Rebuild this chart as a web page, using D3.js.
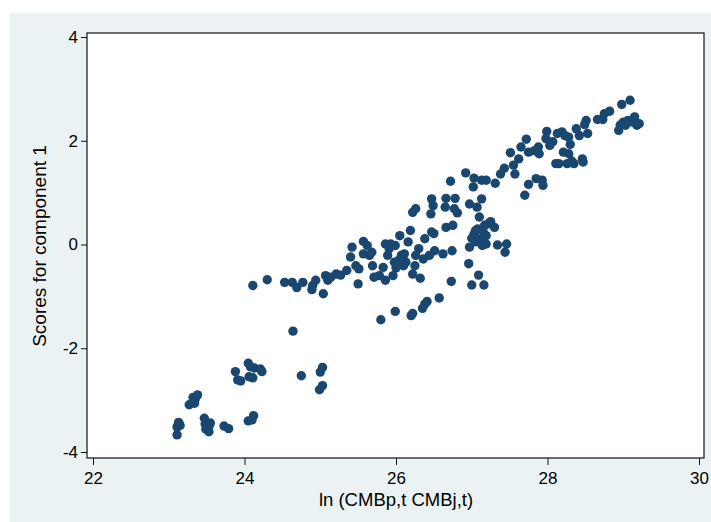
<!DOCTYPE html>
<html>
<head>
<meta charset="utf-8">
<script src="https://cdn.jsdelivr.net/npm/d3@7"></script>
<style>
  body { margin: 0; background: #ffffff; }
  svg { display: block; font-family: "Liberation Sans", Arial, sans-serif; }
</style>
</head>
<body>
<svg id="chart"></svg>
<script>
const xTicks = [22, 24, 26, 28, 30]
const yTicks = [-4, -2, 0, 2, 4]
const xTitle = 'ln (CMBp,t CMBj,t)'
const yTitle = 'Scores for component 1'

// ln values (x) and component scores (y)
const xValues = [
  23.11, 23.12, 23.14, 23.13, 23.15, 23.11, 23.27, 23.34, 23.35, 23.38, 23.32,
  23.47, 23.48, 23.53, 23.53, 23.55, 23.49, 23.73, 23.79, 23.88, 23.91, 23.95,
  24.05, 24.08, 24.11, 24.13, 24.06, 24.21, 24.23, 24.05, 24.10, 24.12, 24.64,
  24.75, 24.99, 25.03, 25.00, 25.03,
  24.11, 24.30, 24.53, 24.63, 24.69, 24.77, 24.89, 24.90, 24.94, 25.04, 25.07,
  25.10, 25.14, 25.21, 25.27, 25.35, 25.40, 25.42, 25.47, 25.50, 25.51, 25.57,
  25.57, 25.62, 25.65, 25.68, 25.69, 25.71, 25.78, 25.83, 25.86, 25.86, 25.89,
  25.91, 25.93, 25.96, 25.98, 25.99, 26.02, 26.05, 26.07, 26.10, 26.11, 26.13,
  26.16, 26.19, 26.22, 26.22, 26.26, 26.25, 26.26, 26.30, 26.32, 26.36, 26.38,
  26.44, 26.46, 26.47, 26.49, 26.47, 26.50, 26.51, 26.62, 26.65, 26.66, 26.66,
  26.72, 26.73, 26.74, 26.75, 26.77, 26.78, 26.81, 26.92, 26.96, 26.97, 26.97,
  27.00, 27.02, 27.03, 27.05, 27.05, 27.07, 27.09, 27.10, 27.13, 27.13, 27.14,
  27.16, 27.17, 27.19, 27.19, 27.19, 27.25, 27.30, 27.31, 27.34, 27.38, 27.43,
  27.44, 27.46, 27.51, 27.55, 27.57, 27.62, 27.65, 27.70, 27.72, 27.75, 27.75,
  27.85, 27.83, 27.88, 27.89, 27.93, 27.94, 27.98, 27.99, 28.03, 28.07, 28.11,
  28.13, 28.15, 28.19, 28.21, 28.23, 28.26, 28.28, 28.30, 28.28, 28.32, 28.35,
  28.38, 28.42, 28.46, 28.47, 28.49, 28.51, 28.53, 28.66, 28.73, 28.75, 28.82,
  28.94, 28.98, 29.00, 29.03, 29.06, 29.09, 29.12, 29.15, 29.18, 29.21, 28.96,
  25.80, 25.99, 26.20, 26.22, 26.35, 26.38, 26.41, 26.57,
  27.00, 27.03, 27.08, 27.11, 27.15, 27.22, 26.04, 26.00
]
const yValues = [
  -3.67, -3.49, -3.46, -3.43, -3.49, -3.52, -3.09, -3.06, -2.98, -2.90, -2.95,
  -3.35, -3.46, -3.51, -3.61, -3.44, -3.56, -3.50, -3.55, -2.45, -2.61, -2.63,
  -2.29, -2.36, -2.57, -2.38, -2.55, -2.40, -2.45, -3.40, -3.38, -3.30, -1.67,
  -2.53, -2.80, -2.72, -2.46, -2.37,
  -0.79, -0.68, -0.73, -0.73, -0.83, -0.73, -0.87, -0.79, -0.69, -0.95, -0.60,
  -0.69, -0.63, -0.57, -0.59, -0.50, -0.24, -0.05, -0.41, -0.76, -0.47, 0.06,
  -0.18, -0.02, -0.21, -0.15, -0.41, -0.63, -0.60, -0.44, 0.01, -0.69, -0.21,
  -0.08, 0.01, -0.60, -0.34, -0.02, -0.41, 0.17, -0.21, -0.41, -0.18, -0.34,
  0.05, 0.27, -0.57, 0.62, 0.69, -0.41, -0.21, -0.08, -0.65, -0.28, 0.11,
  -0.21, 0.59, 0.88, 0.75, 0.24, 0.21, -0.12, -0.18, 0.72, 0.89, 0.33,
  1.22, -0.71, -0.12, 0.37, 0.69, 0.89, 0.61, 1.38, -0.37, 0.78, -0.05,
  -0.78, 1.11, 1.28, 0.05, 0.27, 0.72, -0.59, 0.53, 0.88, 1.24, -0.02,
  -0.78, 0.37, 1.24, 0.17, 0.01, 0.44, 0.33, 1.18, -0.01, 1.36, 1.47,
  -0.15, 0.01, 1.77, 1.53, 1.36, 1.65, 1.88, 0.95, 2.03, 1.16, 1.78,
  1.27, 1.81, 1.88, 1.75, 1.24, 1.14, 2.04, 2.18, 1.91, 1.98, 1.56,
  2.14, 1.56, 2.17, 1.78, 2.10, 1.56, 2.07, 1.93, 1.75, 1.61, 1.56,
  2.23, 2.10, 1.65, 1.59, 2.31, 2.39, 2.14, 2.41, 2.41, 2.52, 2.57,
  2.20, 2.70, 2.36, 2.30, 2.39, 2.78, 2.36, 2.46, 2.30, 2.33, 2.30,
  -1.45, -1.29, -1.37, -1.33, -1.23, -1.15, -1.10, -1.03,
  0.12, 0.20, 0.30, 0.10, 0.25, 0.40, -0.30, -0.45
]

const width = 711
const height = 522
const plot = { left: 87, right: 704, top: 33, bottom: 458 }

const svg = d3.select('#chart')
              .attr('width', width)
              .attr('height', height)

svg.append('rect')
   .attr('x', 10)
   .attr('y', 13)
   .attr('width', width - 10)
   .attr('height', height - 13)
   .attr('fill', '#eaf2f3')

svg.append('rect')
   .attr('x', plot.left)
   .attr('y', plot.top)
   .attr('width', plot.right - plot.left)
   .attr('height', plot.bottom - plot.top)
   .attr('fill', '#ffffff')

const xScale = d3.scaleLinear()
                 .domain([22, 30])
                 .range([93, 699])
const yScale = d3.scaleLinear()
                 .domain([-4, 4])
                 .range([452, 37])

const points = xValues.map((x, i) => ({ x, y: yValues[i] }))

svg.append('g')
   .selectAll('circle')
   .data(points)
   .join('circle')
   .attr('cx', d => xScale(d.x))
   .attr('cy', d => yScale(d.y))
   .attr('r', 4.7)
   .attr('fill', '#1a476f')

svg.append('rect')
   .attr('x', plot.left)
   .attr('y', plot.top)
   .attr('width', plot.right - plot.left)
   .attr('height', plot.bottom - plot.top)
   .attr('fill', 'none')
   .attr('stroke', '#111')
   .attr('stroke-width', 1.2)

const xAxis = d3.axisBottom(xScale)
                .tickValues(xTicks)
                .tickSize(7)
                .tickPadding(7)
const yAxis = d3.axisLeft(yScale)
                .tickValues(yTicks)
                .tickSize(6)
                .tickPadding(3)

const gx = svg.append('g')
              .attr('transform', `translate(0, ${plot.bottom})`)
              .call(xAxis)
const gy = svg.append('g')
              .attr('transform', `translate(${plot.left}, 0)`)
              .call(yAxis)

;[gx, gy].forEach(g => {
  g.select('.domain').remove()
  g.selectAll('.tick line').attr('stroke', '#111').attr('stroke-width', 1)
  g.selectAll('.tick text')
   .attr('fill', '#000')
   .style('font-size', '17px')
   .style('font-family', '"Liberation Sans", Arial, sans-serif')
})
gy.selectAll('.tick text').text(d => d < 0 ? '-' + Math.abs(d) : d)

svg.append('text')
   .text(xTitle)
   .attr('x', 396)
   .attr('y', 506)
   .attr('text-anchor', 'middle')
   .style('font-size', '18.5px')

svg.append('text')
   .text(yTitle)
   .attr('transform', `translate(46, 246) rotate(-90)`)
   .attr('text-anchor', 'middle')
   .style('font-size', '19px')
</script>
</body>
</html>
